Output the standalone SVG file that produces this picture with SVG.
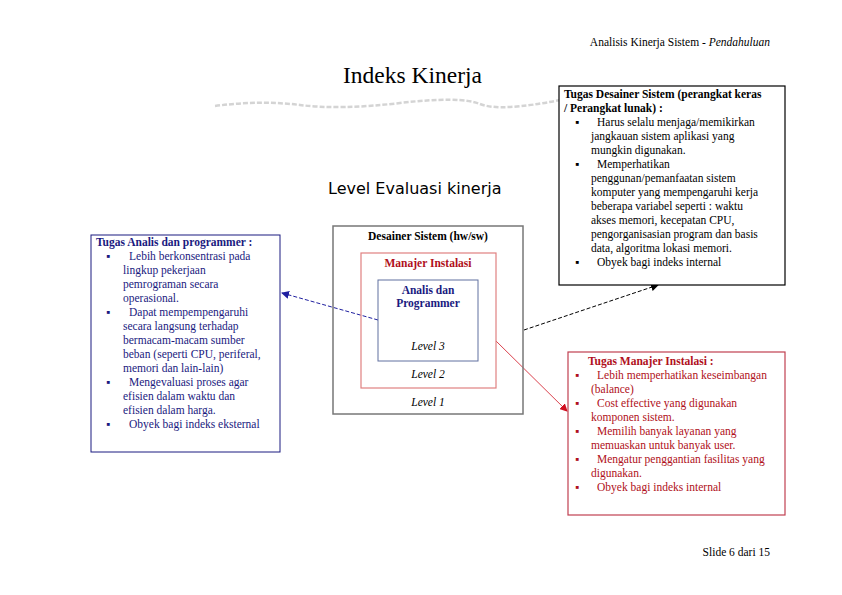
<svg xmlns="http://www.w3.org/2000/svg" width="842" height="595" viewBox="0 0 842 595">
<defs>
<style>
text{font-family:"Liberation Serif",serif;font-size:11.5px}
.b{font-weight:bold}
.i{font-style:italic}
.nv{fill:#1a1a80}
.rd{fill:#b01020}
</style>
<marker id="ab" markerWidth="8" markerHeight="8" refX="7" refY="4" orient="auto" markerUnits="userSpaceOnUse"><path d="M0,0L8,4L0,8z" fill="#2020a0"/></marker>
<marker id="ak" markerWidth="8" markerHeight="8" refX="7" refY="4" orient="auto" markerUnits="userSpaceOnUse"><path d="M0,0L8,4L0,8z" fill="#000"/></marker>
<marker id="ar" markerWidth="8" markerHeight="8" refX="7" refY="4" orient="auto" markerUnits="userSpaceOnUse"><path d="M0,0L8,4L0,8z" fill="#d01020"/></marker>
</defs>
<rect width="842" height="595" fill="#fff"/>
<text x="770" y="46" text-anchor="end" font-size="11">Analisis Kinerja Sistem - <tspan class="i">Pendahuluan</tspan></text>
<text x="343" y="83" style="font-family:'Liberation Serif',serif;font-size:23.5px">Indeks Kinerja</text>
<path d="M215,106 Q260,100 300,105 T400,103 T480,104 T560,100" stroke="#d4d4d4" stroke-width="2.5" fill="none" stroke-dasharray="5 2"/>
<text x="328" y="194" style="font-family:'DejaVu Sans',sans-serif;font-size:16px">Level Evaluasi kinerja</text>

<g id="connectors" fill="none">
<path d="M378,320 L282,293" stroke="#2020a0" stroke-dasharray="4 2" marker-end="url(#ab)"/>
<path d="M524,330 L658,285" stroke="#000" stroke-dasharray="4 2" marker-end="url(#ak)"/>
<path d="M496,341 L567,411" stroke="#d01020" stroke-width="0.8" marker-end="url(#ar)"/>
</g>

<g id="analis-box">
<rect x="91" y="235" width="189" height="217" fill="#fff" stroke="#1a1a80"/>
<text x="96" y="246" class="b nv">Tugas Analis dan programmer :</text>
<g class="nv">
<text x="106" y="260">▪</text><text x="129" y="260">Lebih berkonsentrasi pada</text>
<text x="123" y="274">lingkup pekerjaan</text>
<text x="123" y="288">pemrograman secara</text>
<text x="123" y="302">operasional.</text>
<text x="106" y="316">▪</text><text x="129" y="316">Dapat mempempengaruhi</text>
<text x="123" y="330">secara langsung terhadap</text>
<text x="123" y="344">bermacam-macam sumber</text>
<text x="123" y="358">beban (seperti CPU, periferal,</text>
<text x="123" y="372">memori dan lain-lain)</text>
<text x="106" y="386">▪</text><text x="129" y="386">Mengevaluasi proses agar</text>
<text x="123" y="400">efisien dalam waktu dan</text>
<text x="123" y="414">efisien dalam harga.</text>
<text x="106" y="428">▪</text><text x="129" y="428">Obyek bagi indeks eksternal</text>
</g>
</g>

<g id="desainer">
<rect x="333" y="226" width="190" height="188" fill="none" stroke="#777" stroke-width="1.5"/>
<text x="428" y="240" text-anchor="middle" class="b">Desainer Sistem (hw/sw)</text>
<text x="428" y="406" text-anchor="middle" class="i">Level 1</text>
</g>
<g id="manajer">
<rect x="361" y="253" width="135" height="135" fill="none" stroke="#e08080" stroke-width="1.2"/>
<text x="428" y="267" text-anchor="middle" class="b rd">Manajer Instalasi</text>
<text x="428" y="378" text-anchor="middle" class="i">Level 2</text>
</g>
<g id="analis">
<rect x="378" y="280" width="100" height="81" fill="#fff" stroke="#6070a0"/>
<text x="428" y="294" text-anchor="middle" class="b nv">Analis dan</text>
<text x="428" y="307" text-anchor="middle" class="b nv">Programmer</text>
<text x="428" y="350" text-anchor="middle" class="i">Level 3</text>
</g>

<g id="desainer-box">
<rect x="559" y="86" width="226" height="199" fill="#fff" stroke="#000" stroke-width="1.2"/>
<text x="564" y="98" class="b">Tugas Desainer Sistem (perangkat keras</text>
<text x="564" y="112" class="b">/ Perangkat lunak) :</text>
<text x="575" y="126">▪</text><text x="597" y="126">Harus selalu menjaga/memikirkan</text>
<text x="591" y="140">jangkauan sistem aplikasi yang</text>
<text x="591" y="154">mungkin digunakan.</text>
<text x="575" y="168">▪</text><text x="597" y="168">Memperhatikan</text>
<text x="591" y="182">penggunan/pemanfaatan sistem</text>
<text x="591" y="196">komputer yang mempengaruhi kerja</text>
<text x="591" y="210">beberapa variabel seperti : waktu</text>
<text x="591" y="224">akses memori, kecepatan CPU,</text>
<text x="591" y="238">pengorganisasian program dan basis</text>
<text x="591" y="252">data, algoritma lokasi memori.</text>
<text x="575" y="266">▪</text><text x="597" y="266">Obyek bagi indeks internal</text>
</g>

<g id="manajer-box">
<rect x="568" y="352" width="217" height="163" fill="#fff" stroke="#c04050" stroke-width="1.2"/>
<text x="588" y="365" class="b rd">Tugas Manajer Instalasi :</text>
<g class="rd">
<text x="575" y="379">▪</text><text x="597" y="379">Lebih memperhatikan keseimbangan</text>
<text x="591" y="393">(balance)</text>
<text x="575" y="407">▪</text><text x="597" y="407">Cost effective yang digunakan</text>
<text x="591" y="421">komponen sistem.</text>
<text x="575" y="435">▪</text><text x="597" y="435">Memilih banyak layanan yang</text>
<text x="591" y="449">memuaskan untuk banyak user.</text>
<text x="575" y="463">▪</text><text x="597" y="463">Mengatur penggantian fasilitas yang</text>
<text x="591" y="477">digunakan.</text>
<text x="575" y="491">▪</text><text x="597" y="491">Obyek bagi indeks internal</text>
</g>
</g>
<text x="770" y="556" text-anchor="end" font-size="11">Slide 6 dari 15</text>
</svg>
